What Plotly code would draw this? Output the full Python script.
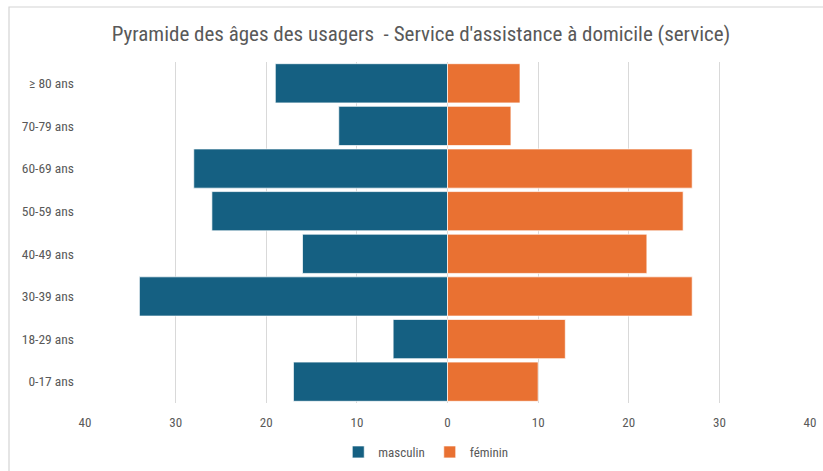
import plotly.graph_objects as go

# Age pyramid data
age_groups = ["0-17 ans", "18-29 ans", "30-39 ans", "40-49 ans",
              "50-59 ans", "60-69 ans", "70-79 ans", "≥ 80 ans"]
masculin = [17, 6, 34, 16, 26, 28, 12, 19]
feminin = [10, 13, 27, 22, 26, 27, 7, 8]

tick_vals = [-40, -30, -20, -10, 0, 10, 20, 30, 40]
tick_text = ["40", "30", "20", "10", "0", "10", "20", "30", "40"]

FONT = "Roboto Condensed, Arial Narrow, Liberation Sans Narrow, Roboto, sans-serif"
GREY = "#595959"

fig = go.Figure()
fig.add_trace(go.Bar(
    y=age_groups, x=[-v for v in masculin], orientation="h", name="masculin",
    marker=dict(color="#156082", line=dict(color="white", width=0.7)),
    customdata=masculin, hovertemplate="%{y}: %{customdata}<extra>masculin</extra>",
))
fig.add_trace(go.Bar(
    y=age_groups, x=feminin, orientation="h", name="féminin",
    marker=dict(color="#E97132", line=dict(color="white", width=0.7)),
    hovertemplate="%{y}: %{x}<extra>féminin</extra>",
))

fig.update_layout(
    width=823, height=471,
    barmode="relative", bargap=0.08,
    plot_bgcolor="white", paper_bgcolor="white",
    margin=dict(l=85, r=13, t=62, b=68),
    font=dict(family=FONT, color=GREY, size=12),
    title=dict(text="Pyramide des âges des usagers  - Service d'assistance à domicile (service)",
               x=421 / 823, xanchor="center", y=0.928, yanchor="middle",
               font=dict(size=21, color=GREY)),
    legend=dict(orientation="h", x=0.47, xanchor="center",
                yref="container", y=1 - 452 / 471, yanchor="middle",
                font=dict(size=13, color=GREY), traceorder="normal",
                itemwidth=30),
    xaxis=dict(range=[-40, 40], tickvals=tick_vals, ticktext=tick_text,
               showgrid=True, gridcolor="#d9d9d9", gridwidth=1,
               zeroline=False, showline=False, ticks="", automargin=False,
               ticklabelstandoff=10,
               tickfont=dict(size=13, color=GREY)),
    yaxis=dict(showgrid=False, zeroline=False, showline=False, ticks="",
               automargin=False, ticklabelstandoff=10,
               tickfont=dict(size=13.5, color=GREY)),
    shapes=[dict(type="rect", xref="paper", yref="paper",
                 x0=-76 / 725, x1=1.2, y0=-0.4, y1=396 / 341,
                 line=dict(color="#d4d4d4", width=1.2))],
)

fig.write_html("out.html", config={"displayModeBar": False},
               post_script="document.body.style.margin='0px';")
